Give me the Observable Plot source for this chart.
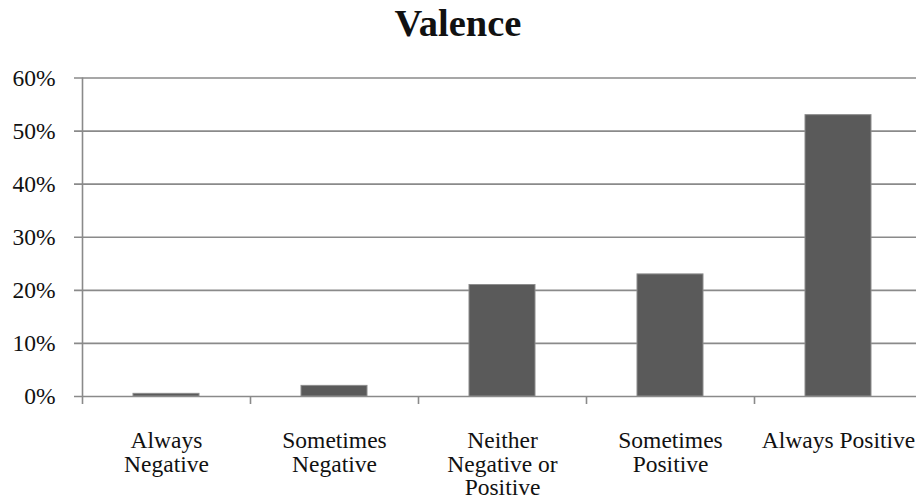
<!DOCTYPE html>
<html>
<head>
<meta charset="utf-8">
<script src="https://cdn.jsdelivr.net/npm/d3@7"></script>
<script src="https://cdn.jsdelivr.net/npm/@observablehq/plot@0.6"></script>
<style>
  html, body { margin: 0; padding: 0; background: #fff; overflow: hidden; }
  #title {
    position: relative; width: 916px; height: 60px;
    font-family: "Liberation Serif", "Times New Roman", serif;
    font-weight: bold; font-size: 38.5px; color: #111;
  }
  #title span { position: absolute; left: 0; right: 0; top: 23px; text-align: center; line-height: 0; }
  #chart svg { display: block; }
  #chart svg text { font-family: "Liberation Serif", "Times New Roman", serif !important; }
</style>
</head>
<body>
<div id="title"><span>Valence</span></div>
<div id="chart"></div>
<script>
// Share of responses for each valence category
const categories = [
  "Always Negative",
  "Sometimes Negative",
  "Neither Negative or Positive",
  "Sometimes Positive",
  "Always Positive"
];
const shares = [0.5, 2, 21, 23, 53];
const labels = [
  "Always\nNegative",
  "Sometimes\nNegative",
  "Neither\nNegative or\nPositive",
  "Sometimes\nPositive",
  "Always Positive"
];
const yTicks = [0, 10, 20, 30, 40, 50, 60];

const data = categories.map((c, i) => ({category: c, share: shares[i]}));
const labelOf = new Map(categories.map((c, i) => [c, labels[i]]));

const font = '"Liberation Serif", "Times New Roman", serif';
const grid = "#8a8a8a";
const half = 84; // half of a band, in pixels

const chart = Plot.plot({
  width: 916,
  height: 437,
  marginLeft: 82,
  marginRight: 0,
  marginTop: 17.5,
  marginBottom: 101,
  style: {fontFamily: font, fontSize: "23.5px", color: "#111", background: "#fff"},
  x: {domain: categories, range: [82, 922], paddingInner: 0.61, paddingOuter: 0.305, align: 0.5},
  y: {domain: [0, 60], ticks: yTicks},
  marks: [
    // horizontal gridlines, reaching a little past the value axis
    Plot.ruleY(yTicks, {stroke: grid, strokeWidth: 1.6, insetLeft: -8}),
    // category separators below the baseline, and the value axis line
    Plot.ruleX(categories, {
      x: d => d, dx: -half, y1: d => d === categories[0] ? 60 : 0, y2: 0,
      insetBottom: -8, stroke: grid, strokeWidth: 1.6
    }),
    Plot.barY(data, {
      x: "category", y: "share",
      fill: "#5a5a5a", stroke: "#8c8c8c", strokeWidth: 1
    }),
    Plot.axisY({
      ticks: yTicks, tickSize: 0, tickPadding: 27,
      tickFormat: d => d + "%", label: null,
      fontFamily: font, fontSize: 23.5, fill: "#111"
    }),
    Plot.axisX({
      tickSize: 0, tickPadding: 35, label: null,
      fontFamily: font, fontSize: 23.5, fill: "#111",
      lineHeight: 1.0, tickFormat: d => labelOf.get(d)
    })
  ]
});
document.getElementById("chart").appendChild(chart);
</script>
</body>
</html>
